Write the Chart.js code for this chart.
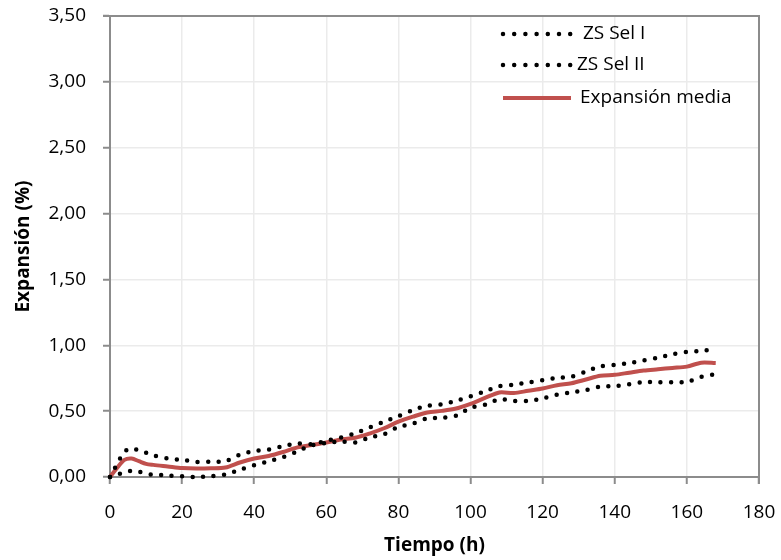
<!DOCTYPE html>
<html>
<head>
<meta charset="utf-8">
<script src="https://cdn.jsdelivr.net/npm/chart.js@4.4.1/dist/chart.umd.min.js"></script>
<style>
  html, body { margin: 0; padding: 0; background: #fff; }
  canvas { display: block; }
</style>
</head>
<body>
<canvas id="canvas" width="781" height="560"></canvas>
<script>
// Tiempo (h)
const tiempo = [0, 2, 4, 6, 8, 10, 12, 16, 20, 24, 28, 32, 36, 40, 44, 48, 52, 56, 60, 64, 68, 72, 76, 80, 84,
  88, 92, 96, 100, 104, 108, 112, 116, 120, 124, 128, 132, 136, 140, 144, 148, 152, 156, 160, 164, 168];

// Expansión (%)
const zsSelI = [0, 0.10, 0.19, 0.22, 0.20, 0.185, 0.165, 0.14, 0.13, 0.115, 0.117, 0.12, 0.17, 0.197, 0.208,
  0.235, 0.255, 0.25, 0.275, 0.30, 0.332, 0.375, 0.42, 0.462, 0.508, 0.54, 0.552, 0.578, 0.612, 0.65, 0.69,
  0.70, 0.718, 0.735, 0.753, 0.762, 0.80, 0.84, 0.852, 0.864, 0.885, 0.906, 0.932, 0.95, 0.958, 0.968];

const zsSelII = [0, 0.015, 0.04, 0.045, 0.04, 0.025, 0.018, 0.012, 0.005, 0.0, 0.005, 0.02, 0.055, 0.09, 0.12,
  0.15, 0.195, 0.24, 0.258, 0.27, 0.262, 0.30, 0.325, 0.38, 0.405, 0.445, 0.45, 0.465, 0.525, 0.548, 0.59,
  0.578, 0.578, 0.596, 0.625, 0.642, 0.66, 0.687, 0.69, 0.705, 0.72, 0.72, 0.72, 0.722, 0.76, 0.78];

const media = [0, 0.07, 0.13, 0.14, 0.12, 0.10, 0.092, 0.08, 0.068, 0.064, 0.066, 0.072, 0.11, 0.14, 0.16,
  0.19, 0.225, 0.243, 0.262, 0.285, 0.298, 0.33, 0.37, 0.42, 0.458, 0.49, 0.502, 0.52, 0.555, 0.60, 0.642,
  0.637, 0.655, 0.672, 0.697, 0.712, 0.74, 0.768, 0.776, 0.792, 0.808, 0.818, 0.828, 0.838, 0.868, 0.865];

const xTicks = [0, 20, 40, 60, 80, 100, 120, 140, 160, 180];
const yTicks = [0, 0.5, 1, 1.5, 2, 2.5, 3, 3.5];

const FONT = "'Open Sans', sans-serif";
const AXIS = "#8c8c8c";
const GRID = "#ebebeb";

function points(ys) {
  return tiempo.map((t, i) => ({x: t, y: ys[i]}));
}

const dotted = {
  borderColor: "#000",
  borderWidth: 4.5,
  borderDash: [0, 10.5],
  borderCapStyle: "round",
  pointRadius: 0,
  tension: 0.3,
  fill: false,
  clip: 6
};

// legend drawn inside the plot, like the spreadsheet original
const insideLegend = {
  id: "insideLegend",
  afterDatasetsDraw(chart) {
    const ctx = chart.ctx;
    const rows = [
      {label: " ZS Sel I", y: 34, tx: 578},
      {label: "ZS Sel II", y: 65, tx: 577},
      {label: "Expansión media", y: 98, tx: 580}
    ];
    rows.forEach((r, i) => {
      const ds = chart.data.datasets[i];
      ctx.save();
      ctx.beginPath();
      ctx.lineWidth = ds.borderDash ? 4.5 : 4;
      ctx.strokeStyle = ds.borderColor;
      ctx.lineCap = ds.borderDash ? "round" : "butt";
      ctx.setLineDash(ds.borderDash ? [0, 11.2] : []);
      ctx.moveTo(503, r.y);
      ctx.lineTo(ds.borderDash ? 572 : 571, r.y);
      ctx.stroke();
      ctx.setLineDash([]);
      ctx.fillStyle = "#000";
      ctx.font = "19px " + FONT;
      ctx.textBaseline = "middle";
      ctx.fillText(r.label, r.tx, r.y);
      ctx.restore();
    });
  }
};

// dark frame on top and right of the plot area
const frame = {
  id: "frame",
  beforeDatasetsDraw(chart) {
    const {ctx, chartArea: a} = chart;
    ctx.save();
    ctx.strokeStyle = AXIS;
    ctx.lineWidth = 2;
    ctx.beginPath();
    ctx.moveTo(a.left - 7, a.top);
    ctx.lineTo(a.right, a.top);
    ctx.lineTo(a.right, a.bottom + 7);
    ctx.stroke();
    ctx.restore();
  }
};

new Chart("canvas", {
  type: "line",
  data: {
    datasets: [
      {label: "ZS Sel I", data: points(zsSelI), ...dotted},
      {label: "ZS Sel II", data: points(zsSelII), ...dotted},
      {
        label: "Expansión media",
        data: points(media),
        borderColor: "#c0504d",
        borderWidth: 4,
        pointRadius: 0,
        tension: 0.3,
        fill: false,
        clip: 6
      }
    ]
  },
  options: {
    responsive: false,
    animation: false,
    layout: {padding: {left: 0, right: 22, top: 16, bottom: 0}},
    plugins: {
      legend: {display: false},
      tooltip: {enabled: false}
    },
    scales: {
      x: {
        type: "linear",
        min: 0,
        max: 180,
        afterBuildTicks: (s) => { s.ticks = xTicks.map(v => ({value: v})); },
        afterFit: (s) => { s.height = 83; s.paddingLeft = 0; s.paddingRight = 0; },
        ticks: {
          color: "#000",
          font: {family: FONT, size: 19},
          padding: 17,
          maxRotation: 0
        },
        grid: {color: GRID, lineWidth: 1.5, tickLength: 7, tickColor: AXIS, tickWidth: 2},
        border: {color: AXIS, width: 2},
        title: {
          display: true,
          text: "Tiempo (h)",
          color: "#000",
          font: {family: FONT, size: 19, weight: "bold"},
          padding: {top: 3, bottom: 3}
        }
      },
      y: {
        min: 0,
        max: 3.5,
        afterBuildTicks: (s) => { s.ticks = yTicks.map(v => ({value: v})); },
        afterFit: (s) => { s.width = 110; s.paddingTop = 0; s.paddingBottom = 0; },
        ticks: {
          color: "#000",
          font: {family: FONT, size: 19},
          padding: 17,
          callback: (v) => v.toFixed(2).replace(".", ",")
        },
        grid: {color: GRID, lineWidth: 1.5, tickLength: 7, tickColor: AXIS, tickWidth: 2},
        border: {color: AXIS, width: 2},
        title: {
          display: true,
          text: "Expansión (%)",
          color: "#000",
          font: {family: FONT, size: 19, weight: "bold"},
          padding: {top: 12, bottom: 4}
        }
      }
    }
  },
  plugins: [frame, insideLegend]
});
</script>
</body>
</html>
